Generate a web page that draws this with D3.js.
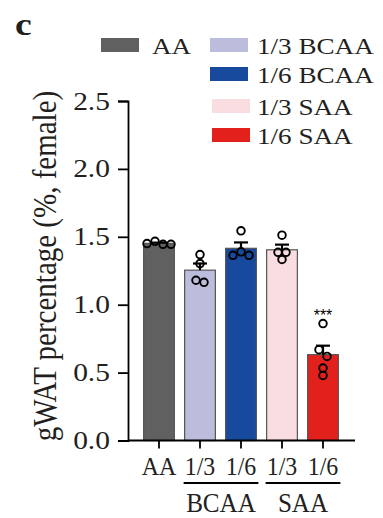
<!DOCTYPE html>
<html>
<head>
<meta charset="utf-8">
<script src="https://cdn.jsdelivr.net/npm/d3@7"></script>
<style>
  body { margin: 0; background: #fff; }
  svg text { font-family: 'Liberation Serif', 'Times New Roman', serif; fill: #231f20; }
</style>
</head>
<body>
<div id="chart"></div>
<script>
// groups, in plotting order
var groups = ["AA", "1/3 BCAA", "1/6 BCAA", "1/3 SAA", "1/6 SAA"];
var tickLabels = ["AA", "1/3", "1/6", "1/3", "1/6"];
var colors = ["#606060", "#bcbcdd", "#174a9c", "#f9dde0", "#e3211c"];

// individual mice (gWAT % of body weight)
var valsAA = [1.445, 1.467, 1.445, 1.450];
var valsBCAA3 = [1.369, 1.303, 1.165, 1.180];
var valsBCAA6 = [1.389, 1.364, 1.364, 1.544];
var valsSAA3 = [1.386, 1.386, 1.333, 1.512];
var valsSAA6 = [0.861, 0.619, 0.669, 0.533, 0.479];
var values = [valsAA, valsBCAA3, valsBCAA6, valsSAA3, valsSAA6];

var yTicks = [0, 0.5, 1.0, 1.5, 2.0, 2.5];
var stars = ["", "", "", "", "***"];

var w = 383;
var h = 518;
// the figure text is a bit wider than plain Times
var wide = 1.18;

var svg = d3.select("#chart")
  .append("svg")
  .attr("width", w)
  .attr("height", h);

var y = d3.scaleLinear().domain([0, 2.5]).range([440.5, 101]);
var x = d3.scaleBand()
  .domain(groups)
  .range([138.5, 343.5])
  .paddingInner(0.25)
  .paddingOuter(0.125);

var bars = groups.map(function(g, i) {
  var v = values[i];
  var m = d3.mean(v);
  var sem = d3.deviation(v) / Math.sqrt(v.length);
  return { group: g, vals: v, mean: m, sem: sem, color: colors[i], star: stars[i] };
});

//bars
svg.selectAll("rect.bar")
  .data(bars)
  .enter()
  .append("rect")
  .attr("class", "bar")
  .attr("x", function(d) { return x(d.group); })
  .attr("y", function(d) { return y(d.mean); })
  .attr("width", x.bandwidth())
  .attr("height", function(d) { return y(0) - y(d.mean); })
  .attr("fill", function(d) { return d.color; })
  .attr("stroke", "#555")
  .attr("stroke-width", 1.2);

//error bars (mean + SEM)
var cap = 7;
bars.forEach(function(d) {
  var cx = x(d.group) + x.bandwidth() / 2;
  svg.append("line")
    .attr("x1", cx).attr("x2", cx)
    .attr("y1", y(d.mean)).attr("y2", y(d.mean + d.sem))
    .attr("stroke", "#000").attr("stroke-width", 2.2);
  svg.append("line")
    .attr("x1", cx - cap).attr("x2", cx + cap)
    .attr("y1", y(d.mean + d.sem)).attr("y2", y(d.mean + d.sem))
    .attr("stroke", "#000").attr("stroke-width", 2.2);
});

//scatter points, spread sideways when they touch
var step = 8, minDist = 7;
bars.forEach(function(d) {
  var placed = [];
  d.vals.forEach(function(v) {
    var py = y(v);
    var tries = [0, -step, step, -2 * step, 2 * step, -3 * step, 3 * step];
    var hit = null, off = 0;
    for (var t = 0; t < tries.length; t++) {
      var clash = placed.filter(function(p) {
        var dx = p.off - tries[t], dy = p.y - py;
        return Math.sqrt(dx * dx + dy * dy) < minDist;
      });
      if (t === 0 && clash.length) hit = clash[0];
      if (!clash.length) { off = tries[t]; break; }
    }
    var pt = { y: py, off: off };
    pt.cluster = hit ? hit.cluster : placed.length;
    placed.push(pt);
  });
  // recentre each cluster on the bar
  d3.group(placed, function(p) { return p.cluster; }).forEach(function(list) {
    var m = d3.mean(list, function(p) { return p.off; });
    list.forEach(function(p) { p.off -= m; });
  });
  var cx = x(d.group) + x.bandwidth() / 2;
  svg.selectAll(null)
    .data(placed)
    .enter()
    .append("circle")
    .attr("cx", function(p) { return cx + p.off; })
    .attr("cy", function(p) { return p.y; })
    .attr("r", 3.8)
    .attr("fill", "none")
    .attr("stroke", "#000")
    .attr("stroke-width", 1.9);

  if (d.star) {
    svg.append("text")
      .attr("x", cx)
      .attr("y", y(d3.max(d.vals)) - 3)
      .attr("text-anchor", "middle")
      .style("font-family", "'Liberation Sans', Arial, sans-serif")
      .style("fill", "#000")
      .attr("font-size", "16px")
      .text(d.star);
  }
});

//y axis
var yAxis = svg.append("g")
  .attr("transform", "translate(128,0)")
  .call(d3.axisLeft(y).tickValues(yTicks).tickFormat(d3.format(".1f")).tickSize(10));
yAxis.select(".domain").attr("stroke-width", 1.8).attr("stroke", "#000");
yAxis.selectAll(".tick line").attr("stroke-width", 1.8).attr("stroke", "#000");
yAxis.selectAll("text")
  .attr("x", 0)
  .attr("transform", "translate(-18,0) scale(" + wide + ",1)")
  .attr("font-size", "25px");

//x axis
var xAxis = svg.append("g")
  .attr("transform", "translate(0,440.5)")
  .call(d3.axisBottom(x).tickSizeOuter(0).tickSize(8).tickFormat(function(d, i) { return tickLabels[i]; }));
xAxis.select(".domain").attr("d", "M128,0H355").attr("stroke-width", 1.8).attr("stroke", "#000");
xAxis.selectAll(".tick line").attr("stroke-width", 1.8).attr("stroke", "#000");
xAxis.selectAll("text")
  .attr("y", 0)
  .attr("dy", 0)
  .attr("transform", "translate(0,34.5) scale(0.92,1)")
  .attr("font-size", "26px");

//group brackets below
var brackets = [
  { label: "BCAA", from: groups[1], to: groups[2] },
  { label: "SAA", from: groups[3], to: groups[4] }
];
brackets.forEach(function(b) {
  var x1 = x(b.from) - 1, x2 = x(b.to) + x.bandwidth() + 2;
  svg.append("line")
    .attr("x1", x1).attr("x2", x2)
    .attr("y1", 483).attr("y2", 483)
    .attr("stroke", "#000").attr("stroke-width", 2);
  svg.append("text")
    .attr("transform", "translate(" + (x1 + x2) / 2 + ",511.5) scale(0.93,1)")
    .attr("text-anchor", "middle")
    .attr("font-size", "27px")
    .text(b.label);
});

//y axis title
svg.append("text")
  .attr("transform", "translate(56,266) scale(" + wide + ",1) rotate(-90)")
  .attr("text-anchor", "middle")
  .attr("font-size", "29px")
  .text("gWAT percentage (%, female)");

//panel letter
svg.append("text")
  .attr("transform", "translate(15,35) scale(" + wide + ",1)")
  .attr("font-size", "32px")
  .attr("font-weight", "bold")
  .text("c");

//legend
var legendPos = [
  { x: 101, y: 38 }, { x: 210, y: 38 }, { x: 210, y: 67 }, { x: 212, y: 99 }, { x: 212, y: 128 }
];
var legend = svg.selectAll("g.legend")
  .data(bars)
  .enter()
  .append("g")
  .attr("class", "legend")
  .attr("transform", function(d, i) { return "translate(" + legendPos[i].x + "," + legendPos[i].y + ")"; });
legend.append("rect")
  .attr("width", 38)
  .attr("height", 14)
  .attr("fill", function(d) { return d.color; });
legend.append("text")
  .attr("transform", function(d, i) {
    var tx = i === 0 ? 51 : 257 - legendPos[i].x;
    return "translate(" + tx + ",16) scale(" + wide + ",1)";
  })
  .attr("font-size", "23px")
  .text(function(d) { return d.group; });
</script>
</body>
</html>
